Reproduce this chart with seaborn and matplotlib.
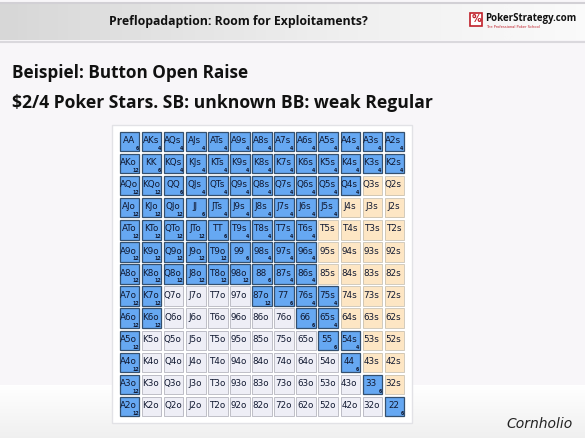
import numpy as np
import pandas as pd
import matplotlib
matplotlib.use('Agg')
import matplotlib.pyplot as plt
from matplotlib.colors import ListedColormap
from matplotlib.patches import Rectangle
import seaborn as sns

# ranks in grid order
ranks = ['A', 'K', 'Q', 'J', 'T', '9', '8', '7', '6', '5', '4', '3', '2']

# number of hands in the raise range per row (counted from the left)
# plus extra in-range cells per row
range_prefix = [13, 13, 11, 10, 9, 9, 9, 2, 2, 1, 1, 1, 1]
range_extra = {
    7: [6, 7, 8, 9],   # 87o, 77, 76s, 75s
    8: [8, 9],         # 66, 65s
    9: [9, 10],        # 55, 54s
    10: [10],          # 44
    11: [11],          # 33
    12: [12],          # 22
}

# combo counts shown in range cells
combos_pair = 6
combos_suited = 4
combos_offsuit = 12

title = 'Preflopadaption: Room for Exploitaments?'
line1 = 'Beispiel: Button Open Raise'
line2 = '$2/4 Poker Stars. SB: unknown BB: weak Regular'
signature = 'Cornholio'

# build labels and state matrix (0 = offsuit fold, 1 = suited fold, 2 = raise)
n = len(ranks)
labels = np.empty((n, n), dtype=object)
state = np.zeros((n, n), dtype=int)
counts = np.zeros((n, n), dtype=int)
for i in range(n):
    for j in range(n):
        if i == j:
            labels[i, j] = ranks[i] * 2
            counts[i, j] = combos_pair
        elif j > i:
            labels[i, j] = ranks[i] + ranks[j] + 's'
            counts[i, j] = combos_suited
        else:
            labels[i, j] = ranks[j] + ranks[i] + 'o'
            counts[i, j] = combos_offsuit
        state[i, j] = 1 if j > i else 0
    for j in range(range_prefix[i]):
        state[i, j] = 2
    for j in range_extra.get(i, []):
        state[i, j] = 2

df = pd.DataFrame(state, index=ranks, columns=ranks)

fill_colors = ['#eeeef6', '#fde6c4', '#66a8f2']
edge_colors = ['#b4b4be', '#cbc3b2', '#34506f']

W, H = 585, 438
fig = plt.figure(figsize=(W / 100, H / 100), dpi=100)
fig.patch.set_facecolor('#f8f6f9')

# slide background: header band and bottom shading
bg = fig.add_axes([0, 0, 1, 1])
bg.set_xlim(0, W)
bg.set_ylim(H, 0)
bg.axis('off')
grad = np.linspace(0, 1, 256).reshape(1, -1)
bg.imshow(grad, extent=(0, W, 40, 4), aspect='auto',
          cmap=ListedColormap(plt.cm.Greys(np.linspace(0.26, 0.04, 256))), zorder=0)
bg.axhline(2.5, color='#d2d0d5', lw=1.5)
bg.axhline(41.5, color='#dad8dd', lw=1.5)
vgrad = np.linspace(0, 1, 64).reshape(-1, 1)
bg.imshow(vgrad, extent=(0, W, H, 385), aspect='auto',
          cmap=ListedColormap(plt.cm.Greys(np.linspace(0.0, 0.13, 64))), zorder=0)

bg.text(238.5, 21, title, ha='center', va='center', fontsize=8.8,
        fontweight='bold', family='Open Sans', color='#111111')
bg.add_patch(Rectangle((470, 13), 12, 13, facecolor='white', edgecolor='#c0202a', lw=1.2))
bg.text(476, 19.5, '%', ha='center', va='center', fontsize=7, color='#c0202a', fontweight='bold')
bg.text(485, 18, 'PokerStrategy.com', ha='left', va='center', fontsize=7.0,
        fontweight='bold', family='Open Sans', color='#111111')
bg.text(486, 27.5, 'The Professional Poker School', ha='left', va='center',
        fontsize=2.6, color='#c0202a')

bg.text(12, 73, line1, ha='left', va='center', fontsize=12.3,
        fontweight='bold', family='Open Sans', color='#111111')
bg.text(12, 103, line2, ha='left', va='center', fontsize=12.6,
        fontweight='bold', family='Open Sans', color='#111111')
bg.text(540, 424, signature, ha='center', va='center', fontsize=10,
        family='DejaVu Sans', style='italic', color='#222222')

# white panel behind the grid
bg.add_patch(Rectangle((112, 125), 300, 298, facecolor='white', edgecolor='#e2e2e6', lw=1))

# hand grid
ax = fig.add_axes([112 / W, (H - 423) / H, 300 / W, 298 / H])
sns.heatmap(df, ax=ax, cmap=ListedColormap(fill_colors), vmin=-0.5, vmax=2.5,
            cbar=False, annot=labels, fmt='', linewidths=2.0, linecolor='white',
            annot_kws={'fontsize': 6.3, 'color': '#101830'},
            xticklabels=False, yticklabels=False)
ax.set_xlim(-0.3, n + 0.3)
ax.set_ylim(n + 0.25, -0.25)
ax.axis('off')

# nudge the hand labels a bit up-left, like the range tool does
for t in ax.texts:
    x, y = t.get_position()
    t.set_position((x - 0.04, y - 0.04))

gap = 0.06
for i in range(n):
    for j in range(n):
        s = state[i, j]
        ax.add_patch(Rectangle((j + gap, i + gap), 1 - 2 * gap, 1 - 2 * gap,
                               facecolor='none', edgecolor=edge_colors[s],
                               lw=0.9 if s == 2 else 0.6))
        if s == 2:
            ax.text(j + 0.92, i + 0.93, str(counts[i, j]), ha='right', va='bottom',
                    fontsize=3.4, fontweight='bold', color='#101830')

fig.savefig('out.png', dpi=100, facecolor=fig.get_facecolor())
